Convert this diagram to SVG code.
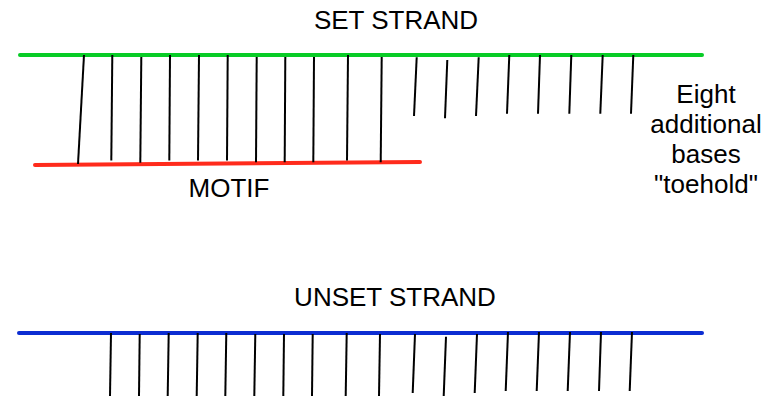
<svg xmlns="http://www.w3.org/2000/svg" width="776" height="396" viewBox="0 0 776 396">
  <style>
    .strand { stroke-width: 4; stroke-linecap: round; fill: none; }
    .set { stroke: #08cc26; }
    .motif { stroke: #ff2b1c; }
    .unset { stroke: #0c2dd2; }
    .base { stroke: #000; stroke-width: 2; stroke-linecap: butt; }
    .label { font-family: "Liberation Sans", Arial, Helvetica, sans-serif; font-size: 26px; fill: #000; text-anchor: middle; }
  </style>
  <rect width="776" height="396" fill="#fff"/>

  <!-- Set strand with the motif bound to it -->
  <g id="set-strand">
    <line class="strand set" x1="20" y1="55" x2="702" y2="55"/>
  </g>
  <g id="motif">
    <line class="strand motif" x1="35" y1="165" x2="420" y2="162"/>
  </g>

  <!-- Base pairs between set strand and motif -->
  <g id="paired-bases">
    <line class="base" x1="84" y1="55" x2="78" y2="164"/>
    <line class="base" x1="112.3" y1="55" x2="111.3" y2="160.5"/>
    <line class="base" x1="141.3" y1="57" x2="140.3" y2="162.7"/>
    <line class="base" x1="170" y1="55" x2="169.3" y2="160.5"/>
    <line class="base" x1="199" y1="55" x2="198" y2="160.5"/>
    <line class="base" x1="227.7" y1="55" x2="227" y2="160.5"/>
    <line class="base" x1="256.7" y1="57" x2="256" y2="162.3"/>
    <line class="base" x1="285.3" y1="57" x2="284.7" y2="162.3"/>
    <line class="base" x1="314" y1="57" x2="313.3" y2="162.3"/>
    <line class="base" x1="348" y1="55" x2="347" y2="160.5"/>
    <line class="base" x1="381.7" y1="57" x2="380.7" y2="162.3"/>
  </g>

  <!-- Unpaired toehold bases -->
  <g id="toehold-bases">
    <line class="base" x1="416.7" y1="57.3" x2="414" y2="116"/>
    <line class="base" x1="447.3" y1="60" x2="445" y2="118.3"/>
    <line class="base" x1="478.7" y1="57.3" x2="476" y2="116"/>
    <line class="base" x1="509.3" y1="55" x2="507" y2="113.7"/>
    <line class="base" x1="540" y1="55" x2="538" y2="113.7"/>
    <line class="base" x1="571.3" y1="55" x2="569.3" y2="113.7"/>
    <line class="base" x1="602.7" y1="55" x2="600.3" y2="113.7"/>
    <line class="base" x1="633.3" y1="55" x2="631" y2="113.7"/>
  </g>

  <!-- Unset strand -->
  <g id="unset-strand">
    <line class="strand unset" x1="19" y1="333" x2="702" y2="333"/>
  </g>
  <g id="unset-bases">
    <line class="base" x1="111" y1="333" x2="110" y2="396"/>
    <line class="base" x1="139.7" y1="334" x2="139" y2="396"/>
    <line class="base" x1="168.7" y1="333" x2="167.7" y2="396"/>
    <line class="base" x1="197.7" y1="333" x2="196.7" y2="396"/>
    <line class="base" x1="226.3" y1="333" x2="225.3" y2="396"/>
    <line class="base" x1="255.3" y1="334" x2="254.3" y2="396"/>
    <line class="base" x1="284" y1="334" x2="283.3" y2="396"/>
    <line class="base" x1="312.7" y1="334" x2="312" y2="396"/>
    <line class="base" x1="346.7" y1="333" x2="345.7" y2="396"/>
    <line class="base" x1="380" y1="334" x2="379" y2="396"/>
    <line class="base" x1="415" y1="334" x2="412.7" y2="393"/>
    <line class="base" x1="446" y1="336.7" x2="443.7" y2="396"/>
    <line class="base" x1="477" y1="334" x2="474.7" y2="393"/>
    <line class="base" x1="508" y1="332" x2="505.7" y2="391"/>
    <line class="base" x1="539" y1="332" x2="536.7" y2="391"/>
    <line class="base" x1="570" y1="332" x2="567.7" y2="391"/>
    <line class="base" x1="601" y1="332" x2="599" y2="391"/>
    <line class="base" x1="632" y1="332" x2="629.7" y2="391"/>
  </g>

  <!-- Labels -->
  <g id="labels">
    <text class="label" x="396" y="29">SET STRAND</text>
    <text class="label" x="229" y="197">MOTIF</text>
    <text class="label" x="395" y="306">UNSET STRAND</text>
    <text class="label" x="706" y="103">Eight</text>
    <text class="label" x="706" y="133">additional</text>
    <text class="label" x="706" y="163">bases</text>
    <text class="label" x="706" y="193">"toehold"</text>
  </g>
</svg>
